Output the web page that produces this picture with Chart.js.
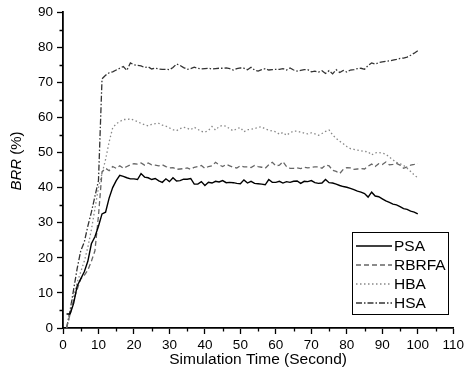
<!DOCTYPE html>
<html>
<head>
<meta charset="utf-8">
<script src="https://cdn.jsdelivr.net/npm/chart.js@4.4.1/dist/chart.umd.min.js"></script>
<style>
  html, body { margin: 0; padding: 0; background: #fff; }
  #wrap { width: 467px; height: 377px; }
</style>
</head>
<body>
<div id="wrap"><canvas id="brrChart" width="467" height="377"></canvas></div>
<script>
// simulation time (s)
const seconds = [1,2,3,4,5,6,7,8,9,10,11,12,13,14,15,16,17,18,19,20,21,22,23,24,25,26,27,28,29,30,
  31,32,33,34,35,36,37,38,39,40,41,42,43,44,45,46,47,48,49,50,51,52,53,54,55,56,57,58,59,60,
  61,62,63,64,65,66,67,68,69,70,71,72,73,74,75,76,77,78,79,80,81,82,83,84,85,86,87,88,89,90,
  91,92,93,94,95,96,97,98,99,100];

const psa = [4,4,7,12,14,16,19,24,26,29,32.5,33,37,40,42,43.5,43.2,42.8,42.5,42.5,
  42.3,44,43,42.8,42.3,42.6,41.9,41.5,42.5,41.7,42.8,41.9,42,42.4,42.4,42.6,41,41,41.7,40.6,
  41.5,41.3,41.8,41.6,42,41.4,41.5,41.4,41.2,41.1,42.2,41.3,41.8,41.2,41.1,41,40.8,42.3,41.5,41.5,
  41.8,41.3,41.7,41.5,41.8,41.9,41.2,41.8,41.7,42,41.4,41.2,41.3,42.3,41.4,41.3,41,40.6,40.3,40.1,
  39.8,39.4,39,38.7,38.3,37.3,38.7,37.6,37.4,36.8,36.2,35.8,35.3,35.1,34.6,34,33.8,33.3,33,32.5];

const rbrfa = [0,4,8,11,14,15,16.5,19,22,32,44.5,45.5,44.8,46,45.5,46.2,45.5,46,46.5,46.8,
  46.7,47,46.4,47,46.5,46.4,46.2,46.5,46,45.6,45.7,45.2,45.3,45.4,45.6,45.2,45.8,46,46.3,45.5,
  46,46.2,47.2,46.5,46,46.6,46.2,45.8,45.6,46.2,45.9,45.9,45.7,46.3,46,45.8,45.5,46.5,47.2,46.2,
  46.4,47.4,46,45.5,45.5,45.6,45.4,45.8,45.6,45.8,45.9,45.9,45.5,46.4,46.2,44.9,44.6,44,45.2,45.7,
  45.6,45.2,45.3,45.4,45.3,46.1,46.7,46,46.8,46.6,47.3,46.5,46.6,46.9,46.4,45.5,45.9,46.4,46.6,46.9];

const hba = [0,4,9,13,16,19,23,28,34,40,44,48,53,57,58.2,58.8,59.4,59.4,59.6,59.2,
  58.8,58.3,57.9,57.6,58,58.2,58.3,57.8,57.5,57,56.5,56.2,56.8,57.2,56.9,56.5,57.2,56.6,56,55.8,
  56.3,57.4,56.4,57.4,57.7,57.5,56.7,56.2,56.8,57.1,55.9,56.5,56.6,56.8,57.2,57.3,56.7,56.4,56.1,55.9,
  55.2,55.7,54.9,55.6,56.1,56.1,55.8,55.5,55.3,55.6,55.3,54.9,55.4,56,56.4,55,54,53.2,52.5,51.7,
  51.1,50.9,50.7,50.5,50.3,50.2,49.3,49.9,50,49.8,49.5,48.7,47.9,47.2,46.8,46.3,45.5,44.6,43.6,42.8];

const hsa = [0,5,11,17,22,24.5,29,33,37.5,42,71,72,72.7,73,73.5,74,74.5,73.4,75.5,75,
  74.8,74.7,74.2,74.4,73.8,74,73.8,73.7,73.7,73.6,74.2,75.2,74.8,74.2,73.7,73.9,74.3,74,73.8,73.9,
  74,73.8,73.9,74,74,74.1,73.9,73.5,73.9,74.1,74,73.6,74.3,73.5,73.2,73.6,73.9,73.5,73.6,73.7,
  73.7,73.9,73.5,74.1,73.5,73.2,73.4,73.6,73.6,73,73.2,72.9,73.3,72.5,73.3,72.4,73.6,72.8,73.4,72.9,
  73.5,73.6,73.9,74,73.7,74.8,75.5,75.2,75.6,75.8,76,76.1,76.3,76.5,76.8,76.9,77.2,77.7,78.3,79];

const seriesNames = ["PSA", "RBRFA", "HBA", "HSA"];
const xTicks = { min: 0, max: 110, step: 10 };
const yTicks = { min: 0, max: 90, step: 10 };

const FONT = "'Liberation Sans', Arial, sans-serif";

function pts(vals) {
    return seconds.map((s, i) => ({ x: s, y: vals[i] }));
}

// minor ticks, y title with italic BRR, boxed legend
const extras = {
    id: "extras",
    afterDraw(chart) {
        const ctx = chart.ctx;
        const xs = chart.scales.x, ys = chart.scales.y;
        const area = chart.chartArea;
        ctx.save();
        ctx.strokeStyle = "#000";
        ctx.lineWidth = 1.3;
        ctx.beginPath();
        for (let v = xTicks.min + xTicks.step / 2; v < xTicks.max; v += xTicks.step) {
            const p = Math.round(xs.getPixelForValue(v)) + 0.5;
            ctx.moveTo(p, area.bottom);
            ctx.lineTo(p, area.bottom + 3.5);
        }
        for (let v = yTicks.min + yTicks.step / 2; v < yTicks.max; v += yTicks.step) {
            const p = Math.round(ys.getPixelForValue(v)) + 0.5;
            ctx.moveTo(area.left, p);
            ctx.lineTo(area.left - 3.5, p);
        }
        ctx.stroke();

        // y title
        ctx.translate(21, 161);
        ctx.rotate(-Math.PI / 2);
        ctx.fillStyle = "#000";
        ctx.textBaseline = "alphabetic";
        const italic = "italic 15px " + FONT, normal = "15px " + FONT;
        ctx.font = italic;
        const w1 = ctx.measureText("BRR").width;
        ctx.font = normal;
        const w2 = ctx.measureText(" (%)").width;
        let x0 = -(w1 + w2) / 2;
        ctx.font = italic;
        ctx.fillText("BRR", x0, 0);
        ctx.font = normal;
        ctx.fillText(" (%)", x0 + w1, 0);
        ctx.restore();

        // legend box
        ctx.save();
        const bx = 352.5, by = 232.5, bw = 96, bh = 82;
        ctx.fillStyle = "#fff";
        ctx.fillRect(bx, by, bw, bh);
        ctx.strokeStyle = "#000";
        ctx.lineWidth = 1;
        ctx.strokeRect(bx, by, bw, bh);
        ctx.font = "15.5px " + FONT;
        ctx.textBaseline = "middle";
        chart.data.datasets.forEach((ds, i) => {
            const cy = 246 + i * 19;
            ctx.strokeStyle = ds.borderColor;
            ctx.lineWidth = ds.borderWidth;
            ctx.setLineDash(ds.borderDash || []);
            ctx.beginPath();
            ctx.moveTo(356, cy);
            ctx.lineTo(392, cy);
            ctx.stroke();
            ctx.setLineDash([]);
            ctx.fillStyle = "#000";
            ctx.fillText(ds.label, 394, cy + 1);
        });
        ctx.restore();
    }
};

new Chart(document.getElementById("brrChart"), {
    type: "line",
    data: {
        datasets: [
            { label: seriesNames[0], data: pts(psa), borderColor: "#000", borderWidth: 1.4 },
            { label: seriesNames[1], data: pts(rbrfa), borderColor: "#666", borderWidth: 1.3, borderDash: [5, 3] },
            { label: seriesNames[2], data: pts(hba), borderColor: "#888", borderWidth: 1.3, borderDash: [1.5, 2.5] },
            { label: seriesNames[3], data: pts(hsa), borderColor: "#333", borderWidth: 1.3, borderDash: [6, 2, 1.5, 2] }
        ]
    },
    options: {
        responsive: false,
        animation: false,
        devicePixelRatio: 1,
        elements: { point: { radius: 0 }, line: { tension: 0 } },
        layout: { padding: { top: 11, right: 11, left: 0, bottom: 0 } },
        plugins: { legend: { display: false }, tooltip: { enabled: false } },
        scales: {
            x: {
                type: "linear",
                min: xTicks.min, max: xTicks.max,
                ticks: { stepSize: xTicks.step, color: "#000", font: { family: FONT, size: 13.5 }, padding: 3, maxRotation: 0 },
                grid: { drawOnChartArea: false, tickLength: 6, tickColor: "#000", tickWidth: 1.3 },
                border: { color: "#000", width: 1.8 },
                title: { display: true, text: "Simulation Time (Second)", color: "#000", font: { family: FONT, size: 15.5 }, padding: { top: 0, bottom: 8 } },
                afterFit(scale) { scale.height = 49; }
            },
            y: {
                min: yTicks.min, max: yTicks.max,
                ticks: { stepSize: yTicks.step, color: "#000", font: { family: FONT, size: 13.5 }, padding: 4 },
                grid: { drawOnChartArea: false, tickLength: 6, tickColor: "#000", tickWidth: 1.3 },
                border: { color: "#000", width: 1.8 },
                afterFit(scale) { scale.width = 63; }
            }
        }
    },
    plugins: [extras]
});
</script>
</body>
</html>
